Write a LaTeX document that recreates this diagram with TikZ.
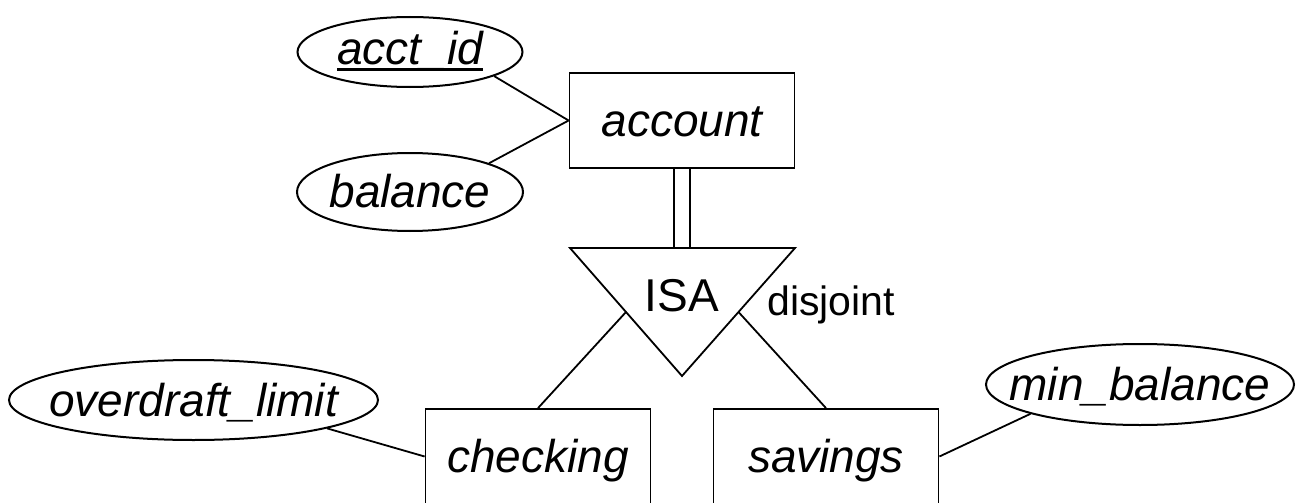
\documentclass[tikz,border=0pt]{standalone}
\usepackage{fontspec}
\setmainfont{Liberation Sans}
\usetikzlibrary{shapes.geometric}
\newcommand\erlabel[2]{\raisebox{-#1}[0pt][0pt]{\makebox[0pt]{#2}}}
\newcommand\keyul[1]{\setbox0\hbox{#1}\rlap{\raisebox{-6pt}{\rule{\wd0}{3pt}}}\box0}
\begin{document}
\begin{tikzpicture}[x=1pt,y=-1pt,
  bigfont/.style={font=\fontsize{46pt}{55pt}\selectfont},
  entity/.style={draw, rectangle, line width=1.8pt, minimum width=225pt, minimum height=95pt, inner sep=0pt, bigfont},
  attr/.style={draw, ellipse, line width=2pt, inner sep=0pt, bigfont},
  link/.style={line width=1.8pt},
  isabox/.style={line width=1.8pt, line join=miter}
]
\useasboundingbox (0,0) rectangle (1296,503);
\clip (0,0) rectangle (1296,503);

% entities
\node[entity] (account)  at (682,120.5) {\erlabel{16pt}{\itshape account}};
\node[entity] (checking) at (538,456.5) {\erlabel{16pt}{\itshape checking}};
\node[entity] (savings)  at (826,456.5) {\erlabel{16pt}{\itshape savings}};

% attributes
\node[attr, minimum width=225pt, minimum height=70pt] (acctid) at (410,52)
  {\erlabel{13pt}{\itshape\keyul{acct\_id}}};
\node[attr, minimum width=226pt, minimum height=78pt] (balance) at (410,192)
  {\erlabel{15pt}{\itshape balance}};
\node[attr, minimum width=369pt, minimum height=80pt] (overdraft) at (193.5,400)
  {\erlabel{16pt}{\itshape overdraft\_limit}};
\node[attr, minimum width=308pt, minimum height=81pt] (minbal) at (1140,384.5)
  {\erlabel{15.5pt}{\itshape min\_balance}};

% ISA triangle
\coordinate (tl) at (570,248);
\coordinate (tr) at (795,248);
\coordinate (tb) at (682,376);
\coordinate (ttop) at (682,248);
\coordinate (tlm) at (626,312);
\coordinate (trm) at (738.5,312);
\draw[isabox] (tl) -- (tr) -- (tb) -- cycle;
\node[bigfont, anchor=base, inner sep=0pt] (isa) at (682,311) {ISA};
\node[font=\fontsize{41pt}{49pt}\selectfont, anchor=base west, inner sep=0pt] (disj) at (767,315) {disjoint};

% connectors
\draw[link] (acctid.-16) -- (account.west);
\draw[link] (balance.20) -- (account.west);
\draw[link] ([xshift=-8pt]account.south) -- ([xshift=-8pt]ttop);
\draw[link] ([xshift=8pt]account.south) -- ([xshift=8pt]ttop);
\draw[link] (tlm) -- (checking.north);
\draw[link] (trm) -- (savings.north);
\draw[link] (overdraft.-12) -- (checking.west);
\draw[link] (minbal.195) -- (savings.east);
\end{tikzpicture}
\end{document}
